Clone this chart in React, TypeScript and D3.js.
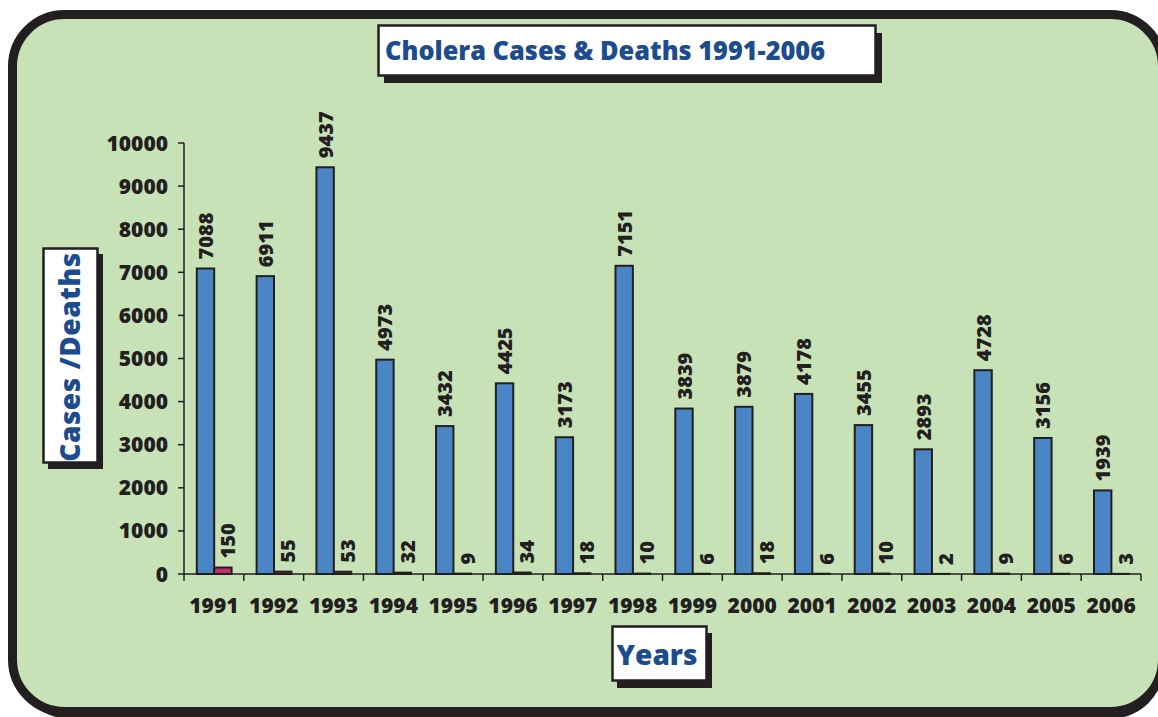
import React from "react";
import * as d3 from "d3";

const years = ["1991","1992","1993","1994","1995","1996","1997","1998","1999","2000","2001","2002","2003","2004","2005","2006"];
const cases = [7088, 6911, 9437, 4973, 3432, 4425, 3173, 7151, 3839, 3879, 4178, 3455, 2893, 4728, 3156, 1939];
const deaths = [150, 55, 53, 32, 9, 34, 18, 10, 6, 18, 6, 10, 2, 9, 6, 3];
const yTicks = [0, 1000, 2000, 3000, 4000, 5000, 6000, 7000, 8000, 9000, 10000];
const title = "Cholera Cases & Deaths 1991-2006";
const yTitle = "Cases /Deaths";
const xTitle = "Years";

const W = 1158, H = 717;
const FONT = "'Open Sans', 'Noto Sans', sans-serif";
const BLUE = "#4a85c6";
const PINK = "#bf2f6c";
const NAVY = "#1d4c8e";
const GREEN = "#c8e2b8";
const INK = "#231f20";

export default function App() {
  const x0 = d3.scaleBand<string>().domain(years).range([184, 1141]).paddingInner(0).paddingOuter(0);
  const x1 = d3.scaleBand<string>().domain(["cases", "deaths"]).range([12.8, 47.6]);
  const y = d3.scaleLinear().domain([0, 10000]).range([574, 143]);
  const bw = x1.bandwidth();

  return (
    <svg width={W} height={H} style={{ position: "absolute", left: 0, top: 0, background: "#fff" }} fontFamily={FONT}>
      <rect x={16.5} y={18.5} width={1147} height={700} rx={52} fill={INK} />
      <rect x={12.5} y={14.5} width={1150} height={697} rx={52} fill={GREEN} stroke={INK} strokeWidth={9} />

      {/* title box */}
      <rect x={384} y={33} width={498} height={50} fill={INK} />
      <rect x={378.5} y={25.5} width={497} height={50} fill="#fff" stroke={INK} strokeWidth={2.5} />
      <text x={385} y={60} fontSize={26} fontWeight={800} fill={NAVY} textLength={440} lengthAdjust="spacingAndGlyphs">{title}</text>

      {/* y title box */}
      <rect x={48} y={254} width={55} height={215} fill={INK} />
      <rect x={43.5} y={248.5} width={54} height={214} fill="#fff" stroke={INK} strokeWidth={2.5} />
      <text transform="translate(80,357) rotate(-90)" textAnchor="middle" fontSize={28} fontWeight={800} fill={NAVY} letterSpacing={0.5}>{yTitle}</text>

      {/* x title box */}
      <rect x={617} y={633} width={95} height={55} fill={INK} />
      <rect x={612.5} y={626.5} width={94} height={54} fill="#fff" stroke={INK} strokeWidth={2.5} />
      <text x={657} y={665} textAnchor="middle" fontSize={28} fontWeight={800} fill={NAVY}>{xTitle}</text>

      {/* y axis */}
      <line x1={184} x2={184} y1={y(10000)} y2={y(0)} stroke={INK} strokeWidth={1.5} />
      {yTicks.map((t) => (
        <g key={t}>
          <line x1={178} x2={184} y1={y(t)} y2={y(t)} stroke={INK} strokeWidth={1.5} />
          <text x={168} y={y(t)} dy="0.36em" textAnchor="end" fontSize={21} fontWeight={800} fill={INK}>{t}</text>
        </g>
      ))}

      {/* bars */}
      {years.map((yr, i) => {
        const gx = x0(yr)!;
        const cx = gx + x1("cases")!;
        const dx = gx + x1("deaths")!;
        return (
          <g key={yr}>
            <rect x={cx} y={y(cases[i])} width={bw} height={y(0) - y(cases[i])} fill={BLUE} stroke={INK} strokeWidth={2} />
            <rect x={dx} y={y(deaths[i])} width={bw} height={Math.max(0, y(0) - y(deaths[i]))} fill={PINK} stroke={INK} strokeWidth={2} />
            <text transform={`translate(${cx + bw / 2 + 7.5},${y(cases[i]) - 9}) rotate(-90)`} fontSize={20} fontWeight={800} fill={INK}>{cases[i]}</text>
            <text transform={`translate(${dx + bw / 2 + 12.5},${y(deaths[i]) - 9}) rotate(-90)`} fontSize={20} fontWeight={800} fill={INK}>{deaths[i]}</text>
          </g>
        );
      })}

      {/* x axis */}
      <line x1={184} x2={1141} y1={y(0)} y2={y(0)} stroke={INK} strokeWidth={1.5} />
      {years.map((yr) => (
        <line key={"t" + yr} x1={x0(yr)!} x2={x0(yr)!} y1={y(0)} y2={y(0) + 7} stroke={INK} strokeWidth={1.5} />
      ))}
      <line x1={1141} x2={1141} y1={y(0)} y2={y(0) + 7} stroke={INK} strokeWidth={1.5} />
      {years.map((yr) => (
        <text key={"l" + yr} x={x0(yr)! + x0.bandwidth() / 2} y={613} textAnchor="middle" fontSize={21} fontWeight={800} fill={INK}>{yr}</text>
      ))}
    </svg>
  );
}
